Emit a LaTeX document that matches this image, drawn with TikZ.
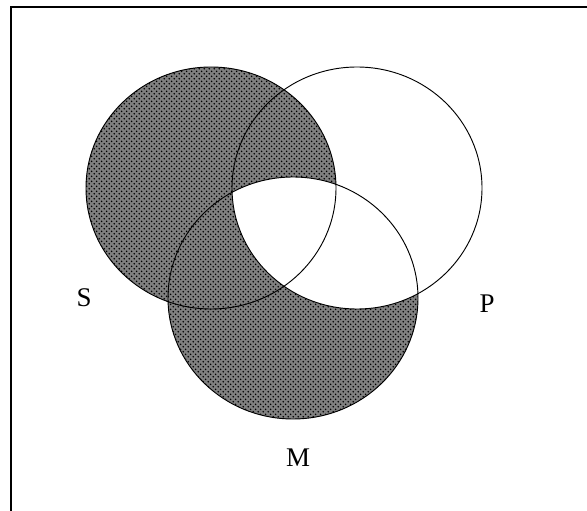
\documentclass[tikz,border=0pt]{standalone}
\usepackage{fontspec}
\setmainfont{Liberation Serif}
\usetikzlibrary{patterns}

% coarse dot texture for the shaded sets
\pgfdeclarepatternformonly{coarse dots}{\pgfpointorigin}{\pgfpoint{4.2pt}{4.2pt}}{\pgfpoint{4.2pt}{4.2pt}}{%
    \pgfpathcircle{\pgfpoint{1.05pt}{1.05pt}}{0.75pt}
    \pgfpathcircle{\pgfpoint{3.15pt}{3.15pt}}{0.75pt}
    \pgfusepath{fill}
}

\begin{document}
\begin{tikzpicture}[
    x=0.03cm, y=-0.03cm,
    outline/.style={draw=black, line width=0.8pt},
    hatch/.style={preaction={fill=black!50}, pattern=coarse dots, pattern color=black},
    lbl/.style={font=\fontsize{23}{27}\selectfont, inner sep=0pt}
]
\useasboundingbox (0,0) rectangle (587,511);

% Frame
\draw[line width=1.6pt] (11,511) -- (11,7) -- (587,7);

% Centres of the three sets
\coordinate (cs) at (211,188);
\coordinate (cp) at (357,188);
\coordinate (cm) at (293,298);

% Shaded part: S and M, without M and P together
\fill[hatch] (cs) ellipse [x radius=125, y radius=121];
\fill[hatch] (cm) ellipse [x radius=125, y radius=121];
\begin{scope}
    \clip (cm) ellipse [x radius=125, y radius=121];
    \fill[white] (cp) ellipse [x radius=125, y radius=121];
\end{scope}

% Outlines
\draw[outline] (cs) ellipse [x radius=125, y radius=121];
\draw[outline] (cp) ellipse [x radius=125, y radius=121];
\draw[outline] (cm) ellipse [x radius=125, y radius=121];

% Labels
\node[lbl] (s) at (84,298) {S};
\node[lbl] (p) at (487,304) {P};
\node[lbl] (m) at (298,458) {M};

\end{tikzpicture}
\end{document}
